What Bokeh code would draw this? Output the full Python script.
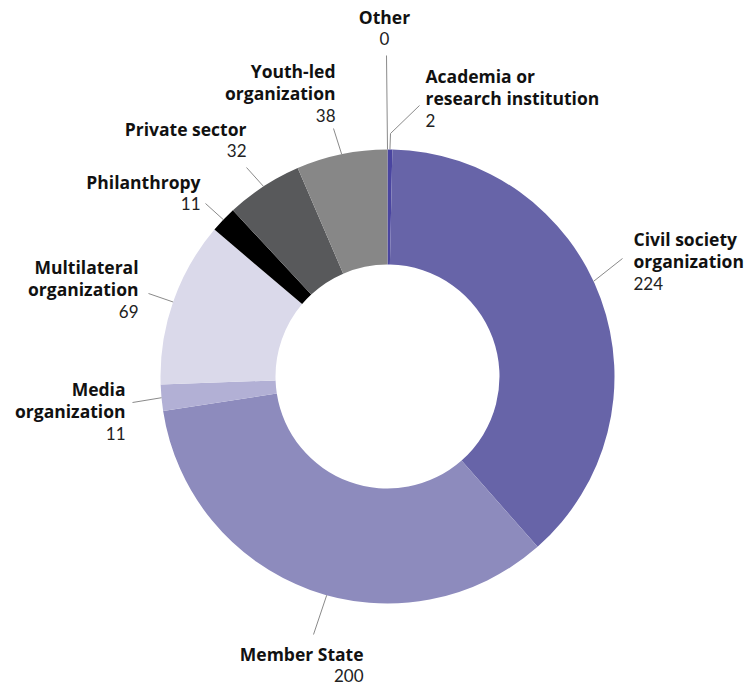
import math
from bokeh.plotting import figure
from bokeh.models import Range1d, ColumnDataSource
from bokeh.core.properties import value
from bokeh.embed import file_html
from bokeh.resources import INLINE

# ---- data ----
categories = ["Academia or research institution", "Civil society organization",
              "Member State", "Media organization", "Multilateral organization",
              "Philanthropy", "Private sector", "Youth-led organization", "Other"]
counts = [2, 224, 200, 11, 69, 11, 32, 38, 0]
colors = ["#4a45a0", "#6764a8", "#8d8bbd", "#b2b0d5", "#dad9ea",
          "#000000", "#58595b", "#878787", "#bbbbbb"]

# label text lines (bold name lines); value line appended from counts
name_lines = [["Academia or", "research institution"],
              ["Civil society", "organization"],
              ["Member State"],
              ["Media", "organization"],
              ["Multilateral", "organization"],
              ["Philanthropy"],
              ["Private sector"],
              ["Youth-led", "organization"],
              ["Other"]]

# ---- layout (image pixel coords of label anchors) ----
CX, CY = 387, 376
R_OUT, R_IN = 227, 112
LINE_H = 22.3
TEXT_FIX = 7  # svg baseline correction (px)
# (anchor x, first baseline y, align, angle nudge deg, elbow points for leader)
label_layout = [
    (425, 82, "left", 0.0, [(390, 133), (419, 105)]),
    (633, 245, "left", -4.7, [(622, 258)]),
    (363, 660, "right", -4.4, [(313, 634)]),
    (125, 395, "right", 0.0, [(132, 402)]),
    (138, 273, "right", 0.0, [(148, 293)]),
    (200, 188, "right", 0.0, [(205, 203)]),
    (246, 135, "right", 0.0, [(246, 167)]),
    (335, 77, "right", 0.0, [(333, 128)]),
    (384, 23, "center", 0.0, [(386, 55)]),
]

def to_data(x, y):
    return x - CX, CY - y

W, H = 746, 687
p = figure(width=W, height=H, output_backend="svg", toolbar_location=None,
           x_range=Range1d(-CX, W - CX), y_range=Range1d(CY - H, CY),
           min_border=0, outline_line_color=None)
p.axis.visible = False
p.grid.visible = False

total = sum(counts)
starts, ends, mids = [], [], []
cum = 0
for c in counts:
    a0 = cum / total * 2 * math.pi
    cum += c
    a1 = cum / total * 2 * math.pi
    starts.append(math.pi / 2 - a0)
    ends.append(math.pi / 2 - a1)
    mids.append((a0 + a1) / 2)

keep = [i for i, c in enumerate(counts) if c > 0]
src = ColumnDataSource(dict(start=[starts[i] for i in keep], end=[ends[i] for i in keep],
                            color=[colors[i] for i in keep], cat=[categories[i] for i in keep]))
p.annular_wedge(x=0, y=0, inner_radius=R_IN, outer_radius=R_OUT,
                start_angle="start", end_angle="end", direction="clock",
                fill_color="color", line_color=None, source=src)

# leader lines
for i, (ax, ay, align, nudge, pts) in enumerate(label_layout):
    ang = mids[i] + math.radians(nudge)
    xs = [R_OUT * math.sin(ang)]
    ys = [R_OUT * math.cos(ang)]
    for (px, py) in pts:
        dx, dy = to_data(px, py)
        xs.append(dx)
        ys.append(dy)
    p.line(xs, ys, line_color="#8a8a8a", line_width=1)

# labels
for i, (ax, ay, align, nudge, pts) in enumerate(label_layout):
    lines = name_lines[i]
    for j, t in enumerate(lines):
        dx, dy = to_data(ax, ay + j * LINE_H - TEXT_FIX)
        p.text(x=[dx], y=[dy], text=[t], text_font=value("Open Sans"), text_font_style="bold",
               text_font_size="17.5px", text_align=align, text_baseline="alphabetic",
               text_color="#111111")
    dx, dy = to_data(ax, ay + len(lines) * LINE_H - TEXT_FIX)
    p.text(x=[dx], y=[dy], text=[str(counts[i])], text_font=value("Lato"),
           text_font_size="17px", text_align=align, text_baseline="alphabetic",
           text_color="#222222")

open("out.html", "w").write(file_html(p, INLINE))
